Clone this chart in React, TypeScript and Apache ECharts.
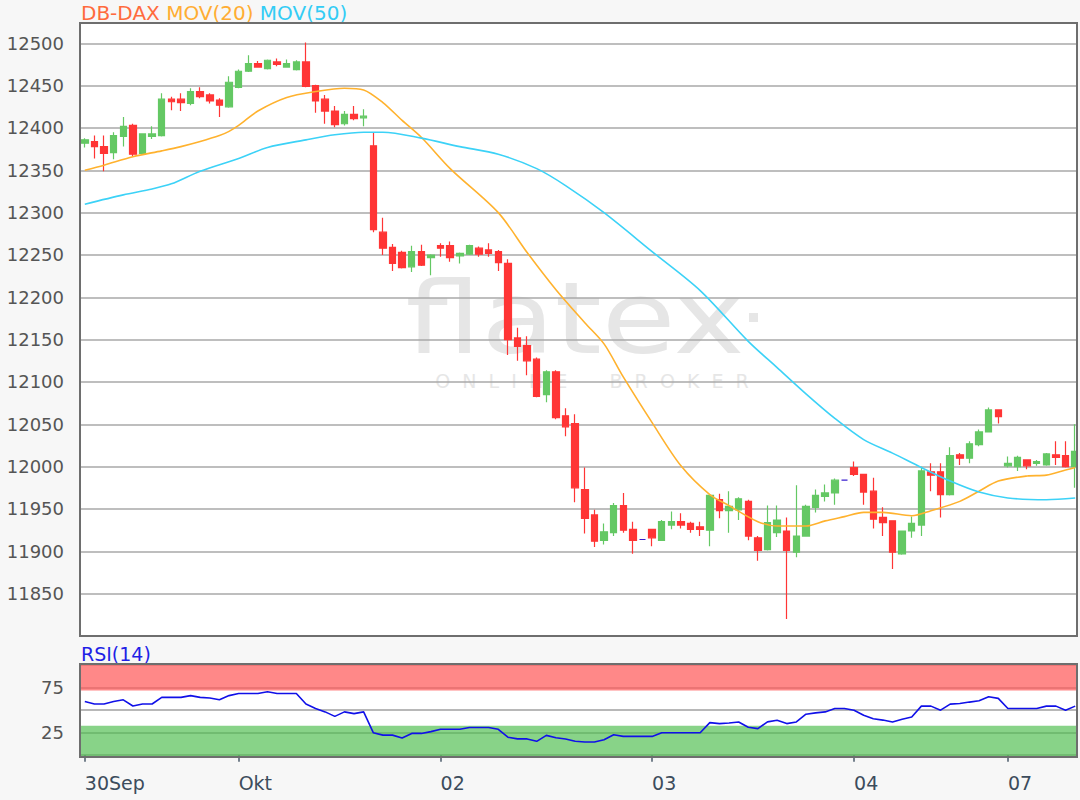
import React, { useEffect, useRef } from "react";
import * as echarts from "echarts";

// ---- data ----
const dayLabels = ["30Sep", "Okt", "02", "03", "04", "07"];
const dayStarts = [0, 16, 37, 59, 80, 96];
const candleCount = 104;

const opens = [
  12382, 12384, 12378, 12371, 12390, 12403, 12370, 12390, 12391, 12434,
  12434, 12429, 12443, 12439, 12433, 12425, 12448, 12467, 12476, 12470,
  12478, 12472, 12469, 12478, 12450, 12434, 12420, 12405, 12416, 12412,
  12379, 12277, 12259, 12253, 12236, 12254, 12247, 12261, 12261, 12249,
  12251, 12258, 12256, 12254, 12240, 12152, 12143, 12127, 12085, 12112,
  12060, 12051, 11973, 11943, 11913, 11922, 11954, 11926, 11914, 11926,
  11913, 11931, 11935, 11933, 11929, 11925, 11961, 11948, 11949, 11959,
  11916, 11902, 11922, 11924, 11899, 11918, 11952, 11965, 11969, 11984,
  11999, 11991, 11971, 11940, 11936, 11897, 11924, 11931, 11994, 11994,
  11967, 12014, 12010, 12026, 12041, 12067, 12001, 12000, 12008, 12004,
  12002, 12014, 12013, 12000,
];
const closes = [
  12386, 12378, 12370, 12391, 12402, 12369, 12393, 12393, 12434, 12431,
  12430, 12443, 12437, 12432, 12427, 12454, 12467, 12476, 12472, 12480,
  12475, 12476, 12478, 12449, 12432, 12420, 12404, 12416, 12411, 12414,
  12280, 12258, 12240, 12235, 12254, 12238, 12250, 12258, 12247, 12252,
  12261, 12251, 12252, 12241, 12150, 12142, 12125, 12083, 12112, 12058,
  12047, 11975, 11939, 11912, 11923, 11954, 11925, 11913, 11914, 11916,
  11935, 11935, 11931, 11926, 11926, 11966, 11948, 11953, 11962, 11918,
  11901, 11934, 11937, 11901, 11918, 11953, 11966, 11969, 11984, 11984,
  11991, 11970, 11938, 11934, 11899, 11924, 11933, 11995, 11990, 11967,
  12013, 12010, 12027, 12041, 12067, 12059, 12004, 12011, 12001, 12006,
  12015, 12011, 12000, 12018,
];
const lows = [
  12377, 12364, 12349, 12363, 12378, 12367, 12368, 12387, 12390, 12421,
  12420, 12427, 12435, 12429, 12413, 12424, 12447, 12466, 12471, 12469,
  12473, 12471, 12468, 12448, 12418, 12405, 12401, 12403, 12409, 12402,
  12277, 12250, 12231, 12234, 12230, 12237, 12226, 12248, 12242, 12240,
  12250, 12248, 12248, 12231, 12132, 12125, 12108, 12082, 12076, 12056,
  12036, 11958, 11921, 11905, 11908, 11918, 11922, 11897, 11914, 11906,
  11913, 11926, 11927, 11922, 11918, 11906, 11939, 11922, 11937, 11913,
  11889, 11901, 11917, 11820, 11893, 11918, 11946, 11959, 11955, 11984,
  11989, 11955, 11927, 11918, 11879, 11896, 11916, 11918, 11971, 11940,
  11966, 12002, 12004, 12024, 12041, 12051, 11999, 11995, 11997, 12001,
  12001, 12002, 11999, 11975,
];
const highs = [
  12388, 12391, 12391, 12395, 12413, 12405, 12393, 12402, 12441, 12437,
  12441, 12447, 12448, 12441, 12435, 12461, 12469, 12486, 12479, 12481,
  12482, 12481, 12480, 12501, 12451, 12439, 12426, 12420, 12426, 12422,
  12394, 12294, 12263, 12255, 12261, 12262, 12251, 12264, 12266, 12253,
  12262, 12260, 12264, 12256, 12245, 12164, 12154, 12129, 12114, 12114,
  12069, 12062, 11999, 11949, 11933, 11957, 11969, 11935, 11914, 11926,
  11937, 11947, 11945, 11935, 11935, 11967, 11968, 11971, 11964, 11961,
  11918, 11954, 11954, 11940, 11978, 11955, 11973, 11979, 11986, 11984,
  12006, 11991, 11987, 11952, 11936, 11924, 11941, 12000, 12004, 12004,
  12023, 12016, 12030, 12044, 12070, 12067, 12012, 12013, 12008, 12008,
  12016, 12030, 12030, 12050,
];

// moving averages read at candle indices: [index, value]
const ma20Points = [
  [0, 12350], [2, 12356], [5, 12366], [8, 12373], [10, 12378], [12, 12384],
  [14, 12391], [15, 12396], [16, 12403], [18, 12420], [21, 12436], [24, 12443],
  [27, 12447], [29, 12445], [31, 12430], [33, 12409], [35, 12389], [38, 12352],
  [43, 12300], [46, 12253], [49, 12209], [52, 12170], [54, 12145], [56, 12106],
  [59, 12052], [62, 12001], [65, 11967], [67, 11954], [70, 11935], [72, 11930],
  [75, 11930], [77, 11936], [79, 11941], [81, 11946], [83, 11946], [86, 11942],
  [88, 11948], [91, 11959], [93, 11971], [95, 11983], [98, 11989], [100, 11990],
  [102, 11996], [103, 11999],
];
const ma50Points = [
  [0, 12310], [4, 12321], [7, 12328], [9, 12334], [12, 12349], [16, 12364],
  [19, 12377], [23, 12386], [26, 12392], [29, 12395], [31, 12395], [35, 12388],
  [39, 12378], [43, 12369], [47, 12352], [50, 12332], [54, 12300], [59, 12254],
  [64, 12208], [69, 12148], [72, 12117], [75, 12086], [78, 12057], [81, 12032],
  [84, 12016], [87, 11999], [90, 11983], [93, 11970], [96, 11963], [100, 11961],
  [103, 11963],
];
const rsiValues = [
  59.6, 56.9, 56.9, 59.6, 61.5, 54.6, 56.9, 56.9, 64.2, 64.2,
  64.2, 66.2, 64.2, 63.5, 61.5, 66.2, 68.5, 68.5, 68.5, 70.4,
  68.5, 68.5, 68.5, 56.9, 51.9, 48.1, 43.1, 48.1, 46.2, 48.1,
  25, 22.3, 22.3, 19.2, 24.2, 24.2, 26.2, 28.8, 28.8, 28.8,
  30.8, 30.8, 30.8, 28.8, 20, 18.1, 18.1, 15.4, 22, 19.3,
  18, 15.5, 14.6, 14.6, 17.2, 22.8, 20.9, 20.9, 20.9, 20.9,
  25, 25, 25, 25, 25, 36.2, 35.1, 35.8, 36.9, 31,
  29.5, 37, 38.8, 35.1, 36.9, 45.5, 47, 48.1, 51.9, 51.9,
  50, 44.4, 40.5, 39, 36.9, 40, 42.5, 54.5, 54.5, 50,
  56.7, 57.5, 59, 60.4, 64.9, 63.1, 51.9, 51.9, 51.9, 51.9,
  54.5, 54.5, 50, 54.5,
];
const rsiBands = { overbought: [72, 101.3], oversold: [-2, 32.6] };
const rsiTickLabels = [25, 75];

// ---- style ----
const BG = "#f7f7f7";
const GREEN = "#64c864";
const RED = "#ff3535";
const DOJI = "#3a1fd0";
const FONT = "DejaVu Sans";
const WATERMARK = "#e6e6e6";

const categories: string[] = [];
for (let i = 0; i < candleCount; i++) {
  let d = 0;
  for (let k = 0; k < dayStarts.length; k++) if (dayStarts[k] <= i) d = k;
  categories.push(dayLabels[d] + " " + (i - dayStarts[d] + 1));
}
const isDayStart = (idx: number) => dayStarts.indexOf(idx) >= 0;

function buildOption() {
  return {
    animation: false,
    backgroundColor: BG,
    title: [
      {
        text: "{a|DB-DAX} {b|MOV(20)} {c|MOV(50)}",
        left: 81,
        top: 3,
        padding: 0,
        textStyle: {
          fontFamily: FONT,
          fontSize: 20,
          fontWeight: "normal",
          lineHeight: 20,
          rich: {
            a: { color: "#ff6a3d", fontFamily: FONT, fontSize: 20 },
            b: { color: "#ffad33", fontFamily: FONT, fontSize: 20 },
            c: { color: "#33ccf5", fontFamily: FONT, fontSize: 20 },
          },
        },
      },
      {
        text: "RSI(14)",
        left: 81,
        top: 644,
        padding: 0,
        textStyle: {
          fontFamily: FONT,
          fontSize: 19,
          fontWeight: "normal",
          lineHeight: 19,
          color: "#1f1fe6",
        },
      },
    ],
    grid: [
      { left: 80, top: 23, width: 1000, height: 613 },
      { left: 80, top: 664, width: 1000, height: 93 },
      { left: 80, top: 665.2, width: 1000, height: 90 },
    ],
    xAxis: [
      {
        type: "category",
        gridIndex: 0,
        data: categories,
        axisLine: { show: false },
        axisTick: { show: false },
        axisLabel: { show: false },
        splitLine: { show: false },
      },
      {
        type: "category",
        gridIndex: 1,
        data: categories,
        offset: 3,
        axisLine: { show: false },
        axisTick: {
          show: true,
          alignWithLabel: true,
          length: 6.5,
          interval: (idx: number) => isDayStart(idx),
          lineStyle: { color: "#4a5a6a", width: 1.5 },
        },
        axisLabel: {
          show: true,
          interval: (idx: number) => isDayStart(idx),
          formatter: (_v: string, idx: number) =>
            isDayStart(idx) ? dayLabels[dayStarts.indexOf(idx)] : "",
          align: "left",
          margin: 13,
          color: "#3c4c5c",
          fontFamily: FONT,
          fontSize: 19,
        },
        splitLine: { show: false },
      },
      {
        type: "category",
        gridIndex: 2,
        data: categories,
        show: false,
      },
    ],
    yAxis: [
      {
        type: "value",
        gridIndex: 0,
        min: 11800,
        max: 12524,
        interval: 50,
        axisLine: { show: false },
        axisTick: { show: false },
        axisLabel: {
          margin: 16,
          color: "#555555",
          fontFamily: FONT,
          fontSize: 18,
          formatter: (v: number) =>
            v % 50 === 0 && v >= 11850 && v <= 12500 ? String(v) : "",
        },
        splitLine: { show: true, lineStyle: { color: "#a9a9a9", width: 1.5 } },
      },
      {
        type: "value",
        gridIndex: 1,
        min: -2,
        max: 101.3,
        show: false,
        splitLine: { show: false },
      },
      {
        type: "value",
        gridIndex: 2,
        min: 0,
        max: 100,
        interval: 25,
        axisLine: { show: false },
        axisTick: { show: false },
        axisLabel: {
          margin: 16,
          color: "#555555",
          fontFamily: FONT,
          fontSize: 18,
          formatter: (v: number) => (rsiTickLabels.indexOf(v) >= 0 ? String(v) : ""),
        },
        splitLine: { show: true, lineStyle: { color: "#a0a0a0", width: 1.5 } },
      },
    ],
    graphic: [
      { type: "rect", silent: true, z: -10, shape: { x: 80, y: 23, width: 997, height: 613 }, style: { fill: "#ffffff" } },
      { type: "rect", silent: true, z: -10, shape: { x: 80, y: 664, width: 997, height: 93 }, style: { fill: "#ffffff" } },
      {
        type: "text", silent: true, z: -9, x: 575, y: 318, scaleX: 1.2,
        style: { text: "flatex", fontFamily: FONT, fontSize: 100, lineHeight: 100, fill: WATERMARK, align: "center", verticalAlign: "middle" },
      },
      { type: "rect", silent: true, z: -9, shape: { x: 749, y: 313, width: 9, height: 9 }, style: { fill: WATERMARK } },
      {
        type: "text", silent: true, z: -9, x: 592, y: 381,
        style: { text: "O  N  L  I  N  E       B  R  O  K  E  R", fontFamily: FONT, fontSize: 19, lineHeight: 19, fill: WATERMARK, align: "center", verticalAlign: "middle" },
      },
      { type: "rect", silent: true, z: 90, shape: { x: 1077.8, y: 0, width: 4, height: 800 }, style: { fill: BG } },
      { type: "rect", silent: true, z: 100, shape: { x: 80, y: 23, width: 997, height: 613 }, style: { fill: "none", stroke: "#6e6e6e", lineWidth: 2 } },
      { type: "rect", silent: true, z: 100, shape: { x: 80, y: 664, width: 997, height: 93 }, style: { fill: "none", stroke: "#6e6e6e", lineWidth: 2 } },
    ],
    series: [
      {
        type: "candlestick",
        xAxisIndex: 0,
        yAxisIndex: 0,
        barWidth: 7,
        z: 3,
        data: opens.map((o, i) => [o, closes[i], lows[i], highs[i]]),
        itemStyle: {
          color: GREEN,
          color0: RED,
          borderColor: GREEN,
          borderColor0: RED,
          borderColorDoji: DOJI,
          borderWidth: 1.2,
        },
      },
      {
        type: "line",
        name: "MOV(20)",
        xAxisIndex: 0,
        yAxisIndex: 0,
        z: 4,
        data: ma20Points,
        smooth: 0.3,
        symbol: "none",
        lineStyle: { color: "#ffb22e", width: 1.6 },
      },
      {
        type: "line",
        name: "MOV(50)",
        xAxisIndex: 0,
        yAxisIndex: 0,
        z: 4,
        data: ma50Points,
        smooth: 0.3,
        symbol: "none",
        lineStyle: { color: "#3cd2f7", width: 1.6 },
      },
      {
        type: "line",
        name: "RSI(14)",
        xAxisIndex: 1,
        yAxisIndex: 1,
        z: 4,
        data: rsiValues,
        symbol: "none",
        lineStyle: { color: "#1010e8", width: 1.6 },
        markArea: {
          silent: true,
          data: [
            [
              { yAxis: rsiBands.overbought[0], itemStyle: { color: "rgba(255,90,90,0.72)" } },
              { yAxis: rsiBands.overbought[1] },
            ],
            [
              { yAxis: rsiBands.oversold[0], itemStyle: { color: "rgba(80,190,80,0.68)" } },
              { yAxis: rsiBands.oversold[1] },
            ],
          ],
        },
      },
    ],
  };
}

export default function App() {
  const ref = useRef<HTMLDivElement>(null);
  useEffect(() => {
    if (!ref.current) return;
    const chart = echarts.init(ref.current, null, { renderer: "svg" });
    chart.setOption(buildOption() as any);
    return () => chart.dispose();
  }, []);
  return (
    <div
      ref={ref}
      style={{ position: "absolute", left: 0, top: 0, width: 1080, height: 800 }}
    />
  );
}
